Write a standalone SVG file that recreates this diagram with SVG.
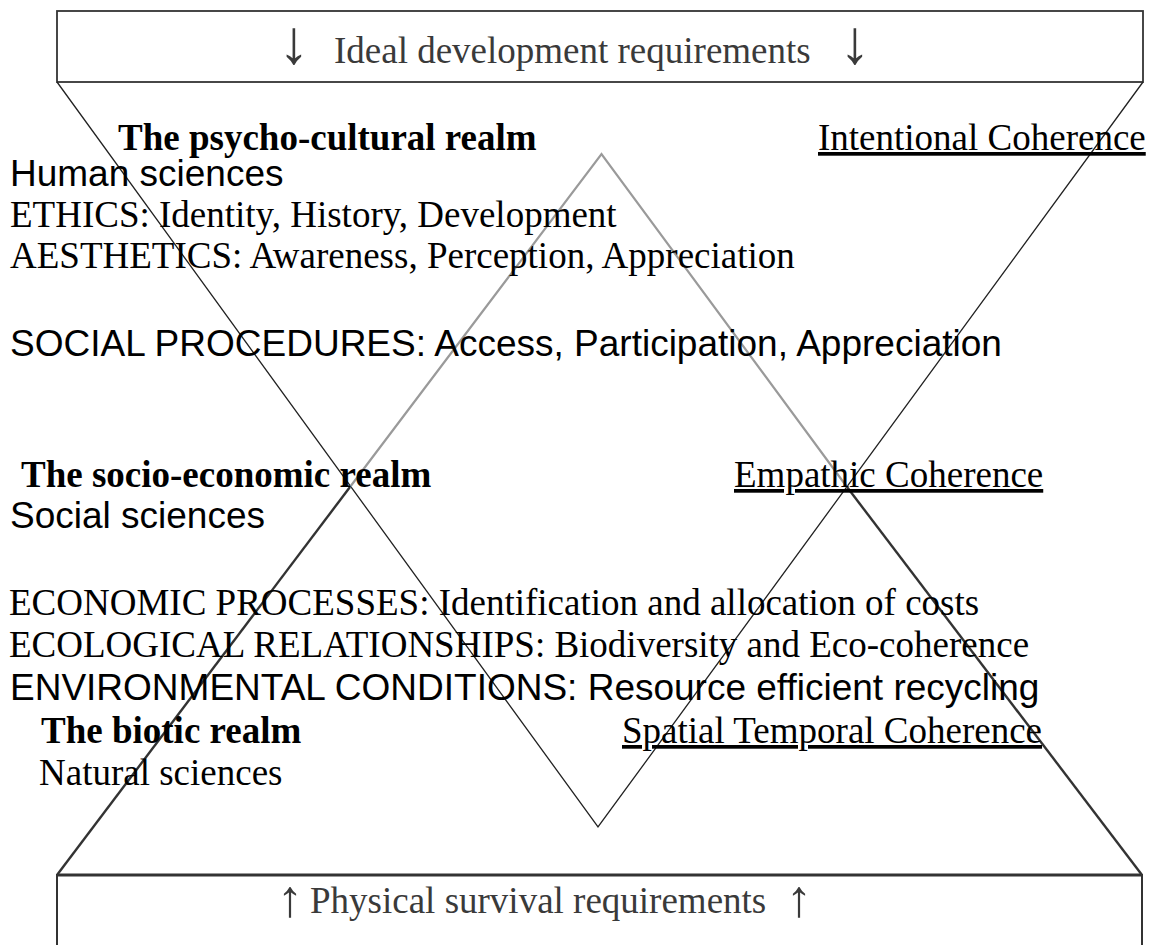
<svg xmlns="http://www.w3.org/2000/svg" width="1155" height="945" viewBox="0 0 1155 945">
  <style>
    .serif { font-family: "Liberation Serif", "Times New Roman", serif; font-size: 37px; fill: #000; }
    .sans { font-family: "Liberation Sans", Arial, sans-serif; font-size: 37px; fill: #000; }
    .bold { font-weight: bold; }
    .ul { text-decoration: underline; }
    .req { font-family: "Liberation Serif", "Times New Roman", serif; font-size: 37px; fill: #3a3a3a; }
    .arrow-down { font-size: 62px; }
    .arrow-up { font-size: 52px; }
    .thin { stroke: #222; stroke-width: 1.3; fill: none; }
    .grey { stroke: #9a9a9a; stroke-width: 2.2; fill: none; }
    .dark { stroke: #333; stroke-width: 2.4; fill: none; }
    .box { stroke: #333; stroke-width: 1.8; fill: #fff; }
  </style>
  <rect width="1155" height="945" fill="#fff"/>

  <g id="top-box">
    <rect class="box" x="57" y="11" width="1086" height="71"/>
    <text class="req"><tspan class="arrow-down" x="294" y="63" text-anchor="middle">↓</tspan><tspan x="334" y="63">Ideal development requirements</tspan><tspan class="arrow-down" x="855" y="63" text-anchor="middle">↓</tspan></text>
  </g>

  <g id="bottom-box">
    <path d="M57,945 V875 H1142 V945" fill="none" stroke="#333" stroke-width="2"/>
    <line x1="57" y1="875" x2="1142" y2="875" stroke="#333" stroke-width="3.2"/>
    <text class="req"><tspan class="arrow-up" x="290" y="916" text-anchor="middle">↑</tspan><tspan x="310" y="913">Physical survival requirements</tspan><tspan class="arrow-up" x="799" y="916" text-anchor="middle">↑</tspan></text>
  </g>

  <g id="connectors">
    <polyline class="thin" points="57,82 598,827 1143,82"/>
    <polyline class="grey" points="350,487 601.5,154 847,487"/>
    <line class="dark" x1="350" y1="487" x2="57" y2="875"/>
    <line class="dark" x1="847" y1="487" x2="1142" y2="875"/>
  </g>

  <g id="psycho-cultural-realm">
    <text class="serif bold" x="118" y="150">The psycho-cultural realm</text>
    <text class="serif ul" x="818" y="150">Intentional Coherence</text>
    <text class="sans" x="10" y="186">Human sciences</text>
    <text class="serif" x="10" y="227">ETHICS: Identity, History, Development</text>
    <text class="serif" x="10" y="268">AESTHETICS: Awareness, Perception, Appreciation</text>
    <text class="sans" x="10" y="356">SOCIAL PROCEDURES: Access, Participation, Appreciation</text>
  </g>

  <g id="socio-economic-realm">
    <text class="serif bold" x="21" y="487">The socio-economic realm</text>
    <text class="serif ul" x="734" y="487">Empathic Coherence</text>
    <text class="sans" x="10" y="528">Social sciences</text>
    <text class="serif" x="9" y="615">ECONOMIC PROCESSES: Identification and allocation of costs</text>
    <text class="serif" x="9" y="657">ECOLOGICAL RELATIONSHIPS: Biodiversity and Eco-coherence</text>
    <text class="sans" x="10" y="700">ENVIRONMENTAL CONDITIONS: Resource efficient recycling</text>
  </g>

  <g id="biotic-realm">
    <text class="serif bold" x="41" y="743">The biotic realm</text>
    <text class="serif ul" x="622" y="743">Spatial Temporal Coherence</text>
    <text class="serif" x="39" y="785">Natural sciences</text>
  </g>
</svg>
